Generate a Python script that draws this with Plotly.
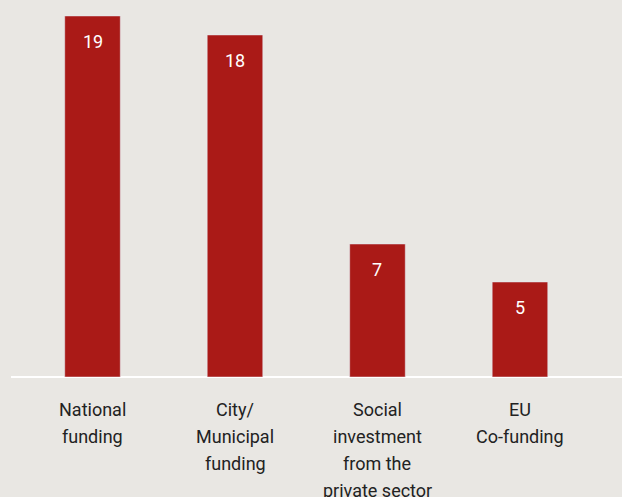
import plotly.graph_objects as go

# Funding sources and number of projects per source
categories = ["National funding", "City/Municipal funding",
              "Social investment from the private sector", "EU Co-funding"]
label_lines = [["National", "funding"],
               ["City/", "Municipal", "funding"],
               ["Social", "investment", "from the", "private sector"],
               ["EU", "Co-funding"]]
values = [19, 18, 7, 5]

BAR = "#aa1a17"
BG = "#e9e7e3"
FONT = "Roboto"

fig = go.Figure(go.Bar(
    x=categories, y=values, marker_color=BAR, width=0.39,
    hoverinfo="skip",
))

annotations = []
for cat, v in zip(categories, values):
    annotations.append(dict(
        x=cat, y=v, xref="x", yref="y", text=str(v), showarrow=False,
        yanchor="middle", yshift=-26,
        font=dict(family=FONT, size=18, color="white"),
    ))
for cat, lines in zip(categories, label_lines):
    for i, line in enumerate(lines):
        annotations.append(dict(
            x=cat, y=0, xref="x", yref="y", text=line, showarrow=False,
            yanchor="middle", yshift=-32 - 27 * i,
            font=dict(family=FONT, size=18, color="#222222"),
        ))

fig.update_layout(
    width=622, height=497,
    margin=dict(l=11, r=0, t=0, b=120),
    paper_bgcolor=BG, plot_bgcolor=BG,
    showlegend=False,
    annotations=annotations,
    xaxis=dict(range=[-0.572, 3.716], showticklabels=False, showgrid=False,
               zeroline=False, showline=False, fixedrange=True),
    yaxis=dict(range=[0, 19.84], visible=False, showgrid=False,
               zeroline=True, zerolinecolor="white", zerolinewidth=2,
               fixedrange=True),
)
fig.update_yaxes(visible=True, showticklabels=False, showline=False)

fig.write_html("out.html")
